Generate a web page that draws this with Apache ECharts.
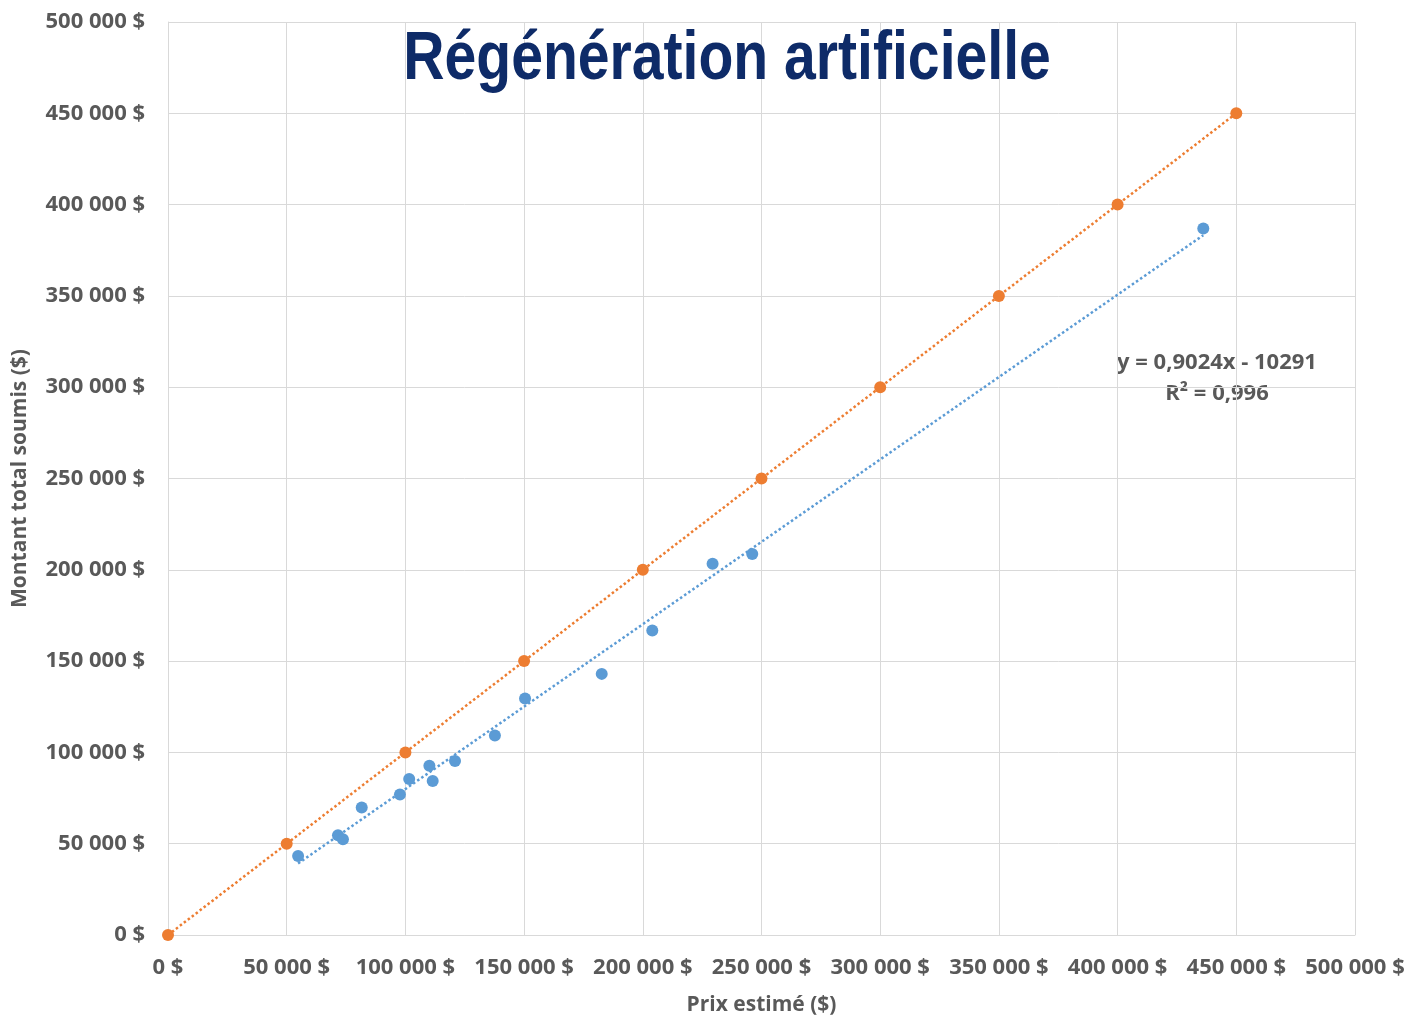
<!DOCTYPE html>
<html><head><meta charset="utf-8">
<script src="https://cdn.jsdelivr.net/npm/echarts@6/dist/echarts.min.js"></script>
<style>html,body{margin:0;padding:0;background:#fff}#c{width:1411px;height:1021px}</style>
</head><body><div id="c"></div>
<script>
const title = 'Régénération artificielle';
const xName = 'Prix estimé ($)';
const yName = 'Montant total soumis ($)';
const blueX = [54800, 71600, 73700, 81600, 97700, 101600, 110100, 111500, 120900, 137700, 150400, 182700, 204000, 229400, 246100, 436100];
const blueY = [43200, 54600, 52500, 69800, 77000, 85400, 92700, 84300, 95300, 109300, 129500, 143000, 166800, 203300, 208700, 386900];
const orangeX = [0, 50000, 100000, 150000, 200000, 250000, 300000, 350000, 400000, 450000];
const orangeY = [0, 50000, 100000, 150000, 200000, 250000, 300000, 350000, 400000, 450000];
const trendSlope = 0.9024;
const trendIntercept = -10291;
const equationText = 'y = 0,9024x - 10291';
const r2Text = 'R² = 0,996';

const fmt = v => (v === 0 ? '0' : String(v).replace(/\B(?=(\d{3})+(?!\d))/g, ' ')) + ' $';
const blueData = blueX.map((x, i) => [x, blueY[i]]);
const orangeData = orangeX.map((x, i) => [x, orangeY[i]]);
const bxMin = Math.min(...blueX), bxMax = Math.max(...blueX);
const blueTrend = [[bxMin, trendSlope * bxMin + trendIntercept], [bxMax, trendSlope * bxMax + trendIntercept]];
const orangeTrend = [[orangeX[0], orangeY[0]], [orangeX[orangeX.length - 1], orangeY[orangeY.length - 1]]];

const font = '"Open Sans", "Noto Sans", sans-serif';
const gray = '#595959';
const chart = echarts.init(document.getElementById('c'));
chart.setOption({
  animation: false,
  grid: { left: 168, right: 56, top: 22, bottom: 84 },
  xAxis: {
    type: 'value', min: 0, max: 500000, interval: 50000,
    name: xName, nameLocation: 'middle', nameGap: 60,
    nameTextStyle: { fontFamily: font, fontWeight: 'bold', fontSize: 21, color: gray },
    axisLine: { show: true, lineStyle: { color: '#d9d9d9', width: 1 } },
    axisTick: { show: false },
    splitLine: { show: true, lineStyle: { color: '#d9d9d9', width: 1 } },
    axisLabel: { formatter: fmt, margin: 22, fontFamily: font, fontWeight: 'bold', fontSize: 22, color: gray }
  },
  yAxis: {
    type: 'value', min: 0, max: 500000, interval: 50000,
    name: yName, nameLocation: 'middle', nameGap: 137, nameRotate: 90,
    nameTextStyle: { fontFamily: font, fontWeight: 'bold', fontSize: 21, color: gray },
    axisLine: { show: true, lineStyle: { color: '#d9d9d9', width: 1 } },
    axisTick: { show: false },
    splitLine: { show: true, lineStyle: { color: '#d9d9d9', width: 1 } },
    axisLabel: { formatter: fmt, margin: 23, fontFamily: font, fontWeight: 'bold', fontSize: 22, color: gray }
  },
  graphic: [
    { type: 'text', x: 727, y: 60, scaleX: 0.84, z: 10,
      style: { text: title, textAlign: 'center', textVerticalAlign: 'middle',
        fontFamily: '"Liberation Sans", Arial, sans-serif', fontWeight: 'bold', fontSize: 68, fill: '#0E2B68' } },
    { type: 'text', x: 1217, y: 363, style: { text: equationText, textAlign: 'center', textVerticalAlign: 'middle', fontFamily: font, fontWeight: 'bold', fontSize: 22, fill: gray } },
    { type: 'text', x: 1217, y: 394, style: { text: r2Text, textAlign: 'center', textVerticalAlign: 'middle', fontFamily: font, fontWeight: 'bold', fontSize: 22, fill: gray } }
  ],
  series: [
    { type: 'line', data: blueTrend, showSymbol: false, symbol: 'none', z: 2,
      lineStyle: { color: '#5B9BD5', width: 2.5, type: [2.5, 2.5] } },
    { type: 'line', data: orangeTrend, showSymbol: false, symbol: 'none', z: 2,
      lineStyle: { color: '#ED7D31', width: 2.5, type: [2.5, 2.5] } },
    { type: 'scatter', data: blueData, symbolSize: 12, z: 3, itemStyle: { color: '#5B9BD5', opacity: 1 } },
    { type: 'scatter', data: orangeData, symbolSize: 12, z: 3, itemStyle: { color: '#ED7D31', opacity: 1 } }
  ]
});
</script></body></html>
